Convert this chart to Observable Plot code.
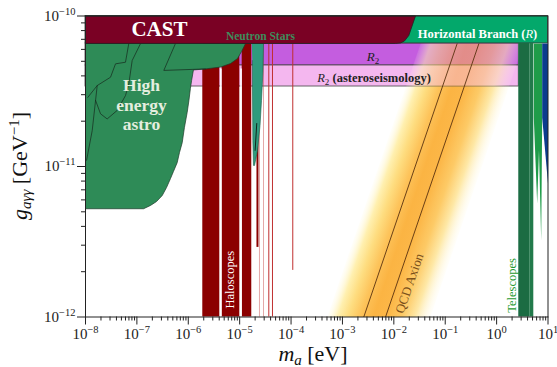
<!DOCTYPE html>
<html><head><meta charset="utf-8">
<script src="https://cdn.jsdelivr.net/npm/d3@7"></script>
<script src="https://cdn.jsdelivr.net/npm/@observablehq/plot@0.6"></script>
<style>body{margin:0;background:#fff;} svg{display:block}</style>
</head><body><div id="chart"></div>
<script>
// ---------- axes ----------
const massDomain = [1e-8, 10];
const couplingDomain = [1e-12, 1e-10];
const xMajorTicks = [1e-8,1e-7,1e-6,1e-5,1e-4,1e-3,1e-2,1e-1,1,10];
const xTickLabels = ["10^-8","10^-7","10^-6","10^-5","10^-4","10^-3","10^-2","10^-1","10^0","10^1"];
const yMajorTicks = [1e-12,1e-11,1e-10];
const yTickLabels = ["10^-12","10^-11","10^-10"];

// ---------- limits (mass in eV, coupling in GeV^-1) ----------
const castMass = [1e-8, 0.0264, 0.01954, 0.0161, 0.01349, 0.01076, 1e-8];
const castCoupling = [1e-10, 1e-10, 7.42e-11, 6.82e-11, 6.62e-11, 6.57e-11, 6.57e-11];
const hbMass = [1e-8, 10];
const hbCoupling = [6.57e-11, 1e-10];
const r2Mass = [1e-8, 2.7];
const r2Coupling = [4.69e-11, 6.57e-11];
const r2AstMass = [1e-8, 2.7];
const r2AstCoupling = [3.40e-11, 4.69e-11];

const heaMass = [1e-8, 1.30e-5, 1.09e-5, 9.08e-6, 6.64e-6, 4.24e-6, 2.16e-6, 1.26e-6, 1.16e-6, 1.10e-6, 1.03e-6, 9.53e-7, 8.43e-7, 7.62e-7, 6.75e-7, 6.08e-7, 5.15e-7, 4.51e-7, 3.77e-7, 3.11e-7, 2.41e-7, 1.84e-7, 1.35e-7, 1e-8];
const heaCoupling = [6.57e-11, 6.57e-11, 5.81e-11, 5.22e-11, 4.83e-11, 4.58e-11, 4.45e-11, 4.38e-11, 3.72e-11, 3.30e-11, 2.75e-11, 2.29e-11, 1.82e-11, 1.44e-11, 1.24e-11, 1.06e-11, 9.27e-12, 8.32e-12, 7.24e-12, 6.41e-12, 5.85e-12, 5.51e-12, 5.24e-12, 5.24e-12];
const heaInnerMass = [
  [6.96e-8, 6.00e-8, 3.84e-8, 3.07e-8, 1.69e-8, 1.11e-8],
  [1.18e-7, 8.10e-8, 6.96e-8, 6.00e-8, 4.14e-8, 2.64e-8, 1.96e-8, 1.57e-8],
  [5.64e-7, 3.34e-7, 2.16e-6],
  [1.69e-8, 1.35e-8, 1.05e-8]
];
const heaInnerCoupling = [
  [6.57e-11, 4.93e-11, 4.81e-11, 3.92e-11, 3.45e-11, 2.88e-11],
  [6.57e-11, 5.06e-11, 3.54e-11, 2.96e-11, 2.36e-11, 2.07e-11, 2.24e-11, 2.75e-11],
  [6.57e-11, 4.35e-11, 4.45e-11],
  [3.45e-11, 1.73e-11, 1.10e-11]
];

const haloMin = [1.916e-6, 4.53e-6, 1.12e-5];
const haloMax = [4.105e-6, 1.006e-5, 1.72e-5];
const haloGaps = [4.31e-6, 1.062e-5];
const haloSpikeMass = [2.22e-5];
const haloSpikeLow = [2.9e-12];
const haloFaintMass = [2.43e-5, 2.91e-5];
const haloLineMass = [3.69e-5, 4.35e-5, 1.08e-4];
const haloLineLow = [1e-12, 1e-12, 2.04e-12];

const nsMass = [1.722e-5, 2.911e-5, 2.844e-5, 2.661e-5, 2.489e-5, 2.223e-5, 1.945e-5, 1.858e-5, 1.803e-5, 1.762e-5];
const nsCoupling = [6.57e-11, 6.57e-11, 4.345e-11, 2.748e-11, 1.871e-11, 1.276e-11, 1.016e-11, 1.016e-11, 1.489e-11, 5.058e-11];
const nsInnerMass = [2.15e-5, 2.00e-5];
const nsInnerCoupling = [1.93e-11, 1.28e-11];

const qcdLineMassLow = [2.6e-3, 6.9e-3];
const qcdLineMassHigh = [0.171, 0.453];
const qcdLineCoupling = [1e-12, 6.57e-11];
const qcdBandMass = [5.05e-4, 0.0516, 3.39, 0.0332];
const qcdBandCoupling = [1e-12, 1e-12, 6.57e-11, 6.57e-11];
const qcdUpperMass = [0.01717, 1.754, 3.39, 0.0332];
const qcdUpperCoupling = [3.4e-11, 3.4e-11, 6.57e-11, 6.57e-11];

const telDarkMass = [2.70, 4.42];
const telMidMass = [4.42, 5.29];
const telSpikeMass = [5.29, 7.71, 7.71, 7.37, 6.68, 6.16, 5.29];
const telSpikeCoupling = [6.57e-11, 6.57e-11, 2.12e-11, 3.22e-12, 1.28e-11, 5.68e-12, 2.12e-11];
const telBlueMass = [7.71, 10, 10, 7.71];
const telBlueCoupling = [6.57e-11, 6.57e-11, 7.71e-12, 2.12e-11];

// ---------- labels ----------
const labelText = ["CAST", "Neutron Stars", "High\nenergy\nastro", "Haloscopes", "Telescopes", "QCD Axion"];
const labelMass = [2.75e-7, 2.54e-5, 1.23e-7, 6.49e-6, 1.95, 0.0202];
const labelCoupling = [8.13e-11, 7.33e-11, 2.58e-11, 1.77e-12, 1.62e-12, 1.67e-12];
const hbLabelPos = [0.435, 7.56e-11];
const r2LabelPos = [4.02e-3, 5.38e-11];
const r2AstLabelPos = [4.21e-3, 3.87e-11];

// ---------- helpers ----------
const poly = (ms, gs) => ms.map((m, i) => ({m, g: gs[i]}));
const multi = (mss, gss) => mss.flatMap((ms, k) => ms.map((m, i) => ({m, g: gss[k][i], k})));
const lbl = i => [{m: labelMass[i], g: labelCoupling[i], t: labelText[i]}];
const minorX = [], minorY = [];
for (let e = -8; e < 1; e++) for (let k = 2; k <= 9; k++) minorX.push(k * Math.pow(10, e));
for (let e = -12; e < -10; e++) for (let k = 2; k <= 9; k++) minorY.push(k * Math.pow(10, e));

const plot = Plot.plot({
  width: 557, height: 367,
  marginLeft: 85, marginRight: 9.5, marginTop: 15.5, marginBottom: 50.5,
  style: {fontFamily: "'Liberation Serif', serif", fontSize: "15px", background: "#fff", color: "#222"},
  x: {type: "log", domain: massDomain},
  y: {type: "log", domain: couplingDomain},
  marks: [
    Plot.line(poly(qcdBandMass, qcdBandCoupling), {x: "m", y: "g", fill: "url(#qcdGrad)", stroke: "none"}),
    Plot.rect([{x1: r2Mass[0], x2: r2Mass[1], y1: r2Coupling[0], y2: r2Coupling[1]}], {x1: "x1", x2: "x2", y1: "y1", y2: "y2", fill: "#c45ddf", stroke: "#444", strokeWidth: 0.8}),
    Plot.rect([{x1: r2AstMass[0], x2: r2AstMass[1], y1: r2AstCoupling[0], y2: r2AstCoupling[1]}], {x1: "x1", x2: "x2", y1: "y1", y2: "y2", fill: "#f4b7ef", stroke: "#444", strokeWidth: 0.8}),
    Plot.line(poly(qcdUpperMass, qcdUpperCoupling), {x: "m", y: "g", fill: "url(#qcdGrad)", fillOpacity: 0.55, stroke: "none"}),
    Plot.rect(haloMin.map((m, i) => ({x1: m, x2: haloMax[i], y1: 1e-12, y2: castCoupling[6]})), {x1: "x1", x2: "x2", y1: "y1", y2: "y2", fill: "#8b0000"}),
    Plot.ruleX(haloGaps, {x: d => d, y1: 1e-12, y2: 4.45e-11, stroke: "#fff", strokeWidth: 1.6}),
    Plot.line(poly(heaMass, heaCoupling), {x: "m", y: "g", fill: "#2e8b57", stroke: "#1c3a2a", strokeWidth: 0.7}),
    Plot.line(multi(heaInnerMass, heaInnerCoupling), {x: "m", y: "g", z: "k", stroke: "#16281d", strokeWidth: 0.7}),
    Plot.ruleX(haloSpikeMass.map((m, i) => ({m, lo: haloSpikeLow[i]})), {x: "m", y1: "lo", y2: castCoupling[6], stroke: "#8b0000", strokeWidth: 2}),
    Plot.ruleX(haloFaintMass, {x: d => d, y1: 1e-12, y2: castCoupling[6], stroke: "#c04040", strokeOpacity: 0.45, strokeWidth: 1}),
    Plot.ruleX(haloLineMass.map((m, i) => ({m, lo: haloLineLow[i]})), {x: "m", y1: "lo", y2: castCoupling[6], stroke: "#c03030", strokeWidth: 1}),
    Plot.line(poly(nsMass, nsCoupling), {x: "m", y: "g", fill: "#2f9b7d", stroke: "#1d5a48", strokeWidth: 0.6}),
    Plot.line(poly(nsInnerMass, nsInnerCoupling), {x: "m", y: "g", stroke: "#10261d", strokeWidth: 1}),
    Plot.link([0, 1].map(i => ({a: qcdLineMassLow[i], b: qcdLineMassHigh[i]})), {x1: "a", x2: "b", y1: qcdLineCoupling[0], y2: qcdLineCoupling[1], stroke: "#5a3210", strokeWidth: 0.9}),
    Plot.rect([{x1: hbMass[0], x2: hbMass[1], y1: hbCoupling[0], y2: hbCoupling[1]}], {x1: "x1", x2: "x2", y1: "y1", y2: "y2", fill: "#03a86b", stroke: "#333", strokeWidth: 0.8}),
    Plot.line(poly(castMass, castCoupling), {x: "m", y: "g", fill: "#7a0124", stroke: "#222", strokeWidth: 0.8}),
    Plot.rect([{x1: telDarkMass[0], x2: telDarkMass[1]}], {x1: "x1", x2: "x2", y1: 1e-12, y2: hbCoupling[0], fill: "#1b6c43"}),
    Plot.rect([{x1: telMidMass[0], x2: telMidMass[1]}], {x1: "x1", x2: "x2", y1: 1e-12, y2: hbCoupling[0], fill: "#227a4b"}),
    Plot.line(poly(telSpikeMass, telSpikeCoupling), {x: "m", y: "g", fill: "#1f9c49", stroke: "none"}),
    Plot.line(poly(telBlueMass, telBlueCoupling), {x: "m", y: "g", fill: "#0b3c8e", stroke: "none"}),
    Plot.text(lbl(0), {x: "m", y: "g", text: "t", fill: "#fff", fontSize: 21, fontWeight: "bold"}),
    Plot.text(lbl(1), {x: "m", y: "g", text: "t", fill: "#3e8c5c", fontSize: 11.5, fontWeight: "bold"}),
    Plot.text(lbl(2), {x: "m", y: "g", text: "t", fill: "#e4eedf", fontSize: 17.5, fontWeight: "bold", lineHeight: 1.1}),
    Plot.text(lbl(3), {x: "m", y: "g", text: "t", fill: "#fff", fontSize: 12.5, rotate: -90}),
    Plot.text(lbl(4), {x: "m", y: "g", text: "t", fill: "#1f9a30", fontSize: 12.5, rotate: -90}),
    Plot.text(lbl(5), {x: "m", y: "g", text: "t", fill: "#7a4f1a", fontSize: 13, rotate: -71}),
    Plot.axisX({ticks: minorX, tickSize: 4, tickFormat: () => "", stroke: "#222"}),
    Plot.axisX({ticks: xMajorTicks, tickSize: 8, tickPadding: 3, tickFormat: d => xTickLabels[xMajorTicks.indexOf(d)], label: null, fontSize: 15, stroke: "#222"}),
    Plot.axisY({ticks: minorY, tickSize: 4, tickFormat: () => "", stroke: "#222"}),
    Plot.axisY({ticks: yMajorTicks, tickSize: 8, tickPadding: 2, tickFormat: d => yTickLabels[yMajorTicks.indexOf(d)], label: null, fontSize: 15, stroke: "#222"}),
    Plot.frame({stroke: "#222", strokeWidth: 1})
  ]
});

const svg = d3.select(plot);
const xs = plot.scale("x"), ys = plot.scale("y");

// gradient across QCD band
const pL = [xs.apply(qcdBandMass[0]), ys.apply(qcdBandCoupling[0])];
const pR = [xs.apply(qcdBandMass[1]), ys.apply(qcdBandCoupling[1])];
const pT = [xs.apply(qcdBandMass[3]), ys.apply(qcdBandCoupling[3])];
let dx = pT[0] - pL[0], dy = pT[1] - pL[1];
const len = Math.hypot(dx, dy); dx /= len; dy /= len;
const nx = -dy, ny = dx;
const w = (pR[0] - pL[0]) * nx + (pR[1] - pL[1]) * ny;
const defs = svg.insert("defs", ":first-child");
const grad = defs.append("linearGradient").attr("id", "qcdGrad").attr("gradientUnits", "userSpaceOnUse")
  .attr("x1", pL[0]).attr("y1", pL[1]).attr("x2", pL[0] + w * nx).attr("y2", pL[1] + w * ny);
[[0, "#fffbe6", 0.2], [0.1, "#fff0b0", 1], [0.2, "#fedd80", 1], [0.32, "#fdc35a", 1], [0.45, "#fbb443", 1],
 [0.58, "#fcb748", 1], [0.72, "#fdca66", 1], [0.85, "#fee8a6", 1], [1, "#fffbe6", 0.2]].forEach(([o, c, a]) =>
  grad.append("stop").attr("offset", o).attr("stop-color", c).attr("stop-opacity", a));

// superscript tick labels
function supify(sel, supSize, shift) {
  sel.each(function () {
    const t = this.textContent; const m = t.match(/^10\^(.*)$/); if (!m) return;
    this.textContent = "";
    const s = d3.select(this);
    s.append("tspan").text("10");
    s.append("tspan").attr("dy", -shift).attr("font-size", supSize).text(m[1].replace("-", "\u2212"));
  });
}
supify(svg.selectAll('[aria-label="x-axis tick label"] text'), 10.5, 6);
supify(svg.selectAll('[aria-label="y-axis tick label"] text'), 10.5, 6);

// rich text labels
function rich(x, y, parts, attrs) {
  const t = svg.append("text").attr("x", x).attr("y", y);
  Object.entries(attrs).forEach(([k, v]) => t.attr(k, v));
  parts.forEach(p => {
    const s = t.append("tspan").text(p.t);
    if (p.i) s.attr("font-style", "italic");
    if (p.b) s.attr("font-weight", "bold");
    if (p.nb) s.attr("font-weight", "normal");
    if (p.fs) s.attr("font-size", p.fs);
    if (p.dy) s.attr("dy", p.dy);
  });
  return t;
}
rich(xs.apply(hbLabelPos[0]), ys.apply(hbLabelPos[1]), [
  {t: "Horizontal Branch ("}, {t: "R", i: 1, nb: 1}, {t: ")"}
], {"text-anchor": "middle", "dy": "0.35em", "fill": "#fff", "font-size": 12.5, "font-weight": "bold"});
rich(xs.apply(r2LabelPos[0]), ys.apply(r2LabelPos[1]), [
  {t: "R", i: 1}, {t: "2", fs: 9, dy: 3}
], {"text-anchor": "middle", "dy": "0.35em", "fill": "#222", "font-size": 13});
rich(xs.apply(r2AstLabelPos[0]), ys.apply(r2AstLabelPos[1]), [
  {t: "R", i: 1}, {t: "2", fs: 9, dy: 3}, {t: " (asteroseismology)", b: 1, dy: -3}
], {"text-anchor": "middle", "dy": "0.35em", "fill": "#222", "font-size": 12.5});

// axis titles
rich(313, 361, [
  {t: "m", i: 1}, {t: "a", i: 1, fs: 15, dy: 4}, {t: " [eV]", dy: -4}
], {"text-anchor": "middle", "fill": "#111", "font-size": 22});
rich(0, 0, [
  {t: "g", i: 1}, {t: "a\u03B3\u03B3", i: 1, fs: 15, dy: 4}, {t: " [GeV", dy: -4}, {t: "\u22121", fs: 15, dy: -8}, {t: "]", dy: 8}
], {"text-anchor": "middle", "fill": "#111", "font-size": 22, "transform": "translate(27,166) rotate(-90)"});

document.getElementById("chart").appendChild(plot);
</script>
</body></html>
